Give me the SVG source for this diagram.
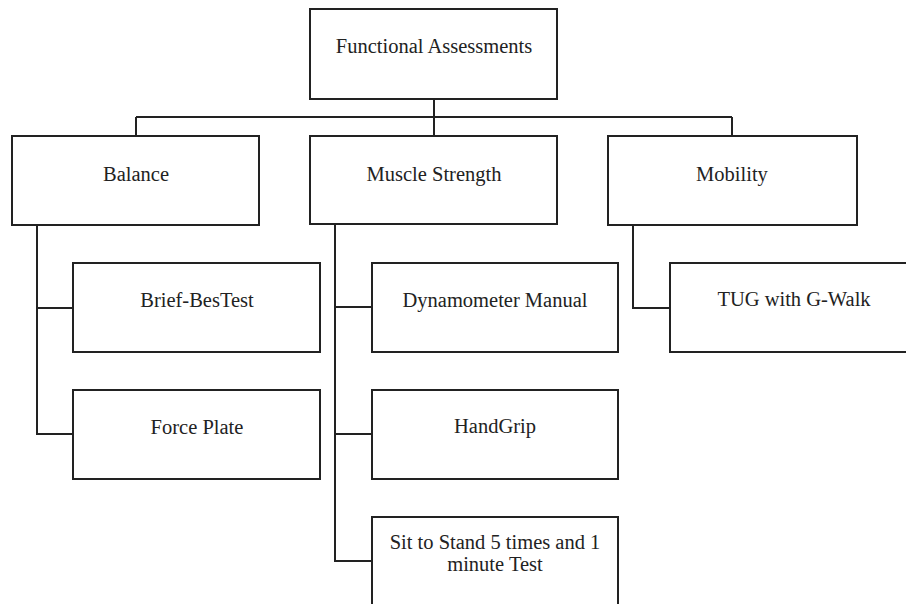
<svg xmlns="http://www.w3.org/2000/svg" width="906" height="604" viewBox="0 0 906 604">
<style>
rect{fill:#fff;stroke:#222;stroke-width:2}
text{font-family:"Liberation Serif","Times New Roman",serif;font-size:20.5px;fill:#222;text-anchor:middle}
.c{fill:none;stroke:#222;stroke-width:2}
</style>
<rect x="0" y="0" width="906" height="604" style="fill:#fff;stroke:none"/>
<g id="connectors">
<path class="c" d="M434 99V117M136 117H732M136 117V136M434 117V136M732 117V136"/>
<path class="c" d="M37 225V434H73M37 308H73"/>
<path class="c" d="M335 224V561H372M335 307H372M335 434H372"/>
<path class="c" d="M633 225V308H670"/>
</g>
<g id="functional"><rect x="310" y="9" width="247" height="90"/><text x="434" y="53">Functional Assessments</text></g>
<g id="balance"><rect x="12" y="136" width="247" height="89"/><text x="136" y="181">Balance</text></g>
<g id="muscle"><rect x="310" y="136" width="247" height="88"/><text x="434" y="181">Muscle Strength</text></g>
<g id="mobility"><rect x="608" y="136" width="249" height="89"/><text x="732" y="181">Mobility</text></g>
<g id="brief"><rect x="73" y="263" width="247" height="89"/><text x="197" y="307">Brief-BesTest</text></g>
<g id="force"><rect x="73" y="390" width="247" height="89"/><text x="197" y="434">Force Plate</text></g>
<g id="dynamometer"><rect x="372" y="263" width="246" height="89"/><text x="495" y="307">Dynamometer Manual</text></g>
<g id="handgrip"><rect x="372" y="390" width="246" height="89"/><text x="495" y="433">HandGrip</text></g>
<g id="sitstand"><rect x="372" y="517" width="246" height="89"/><text x="495" y="549">Sit to Stand 5 times and 1</text><text x="495" y="571">minute Test</text></g>
<g id="tug"><rect x="670" y="263" width="247" height="89"/><text x="794" y="306">TUG with G-Walk</text></g>
</svg>
